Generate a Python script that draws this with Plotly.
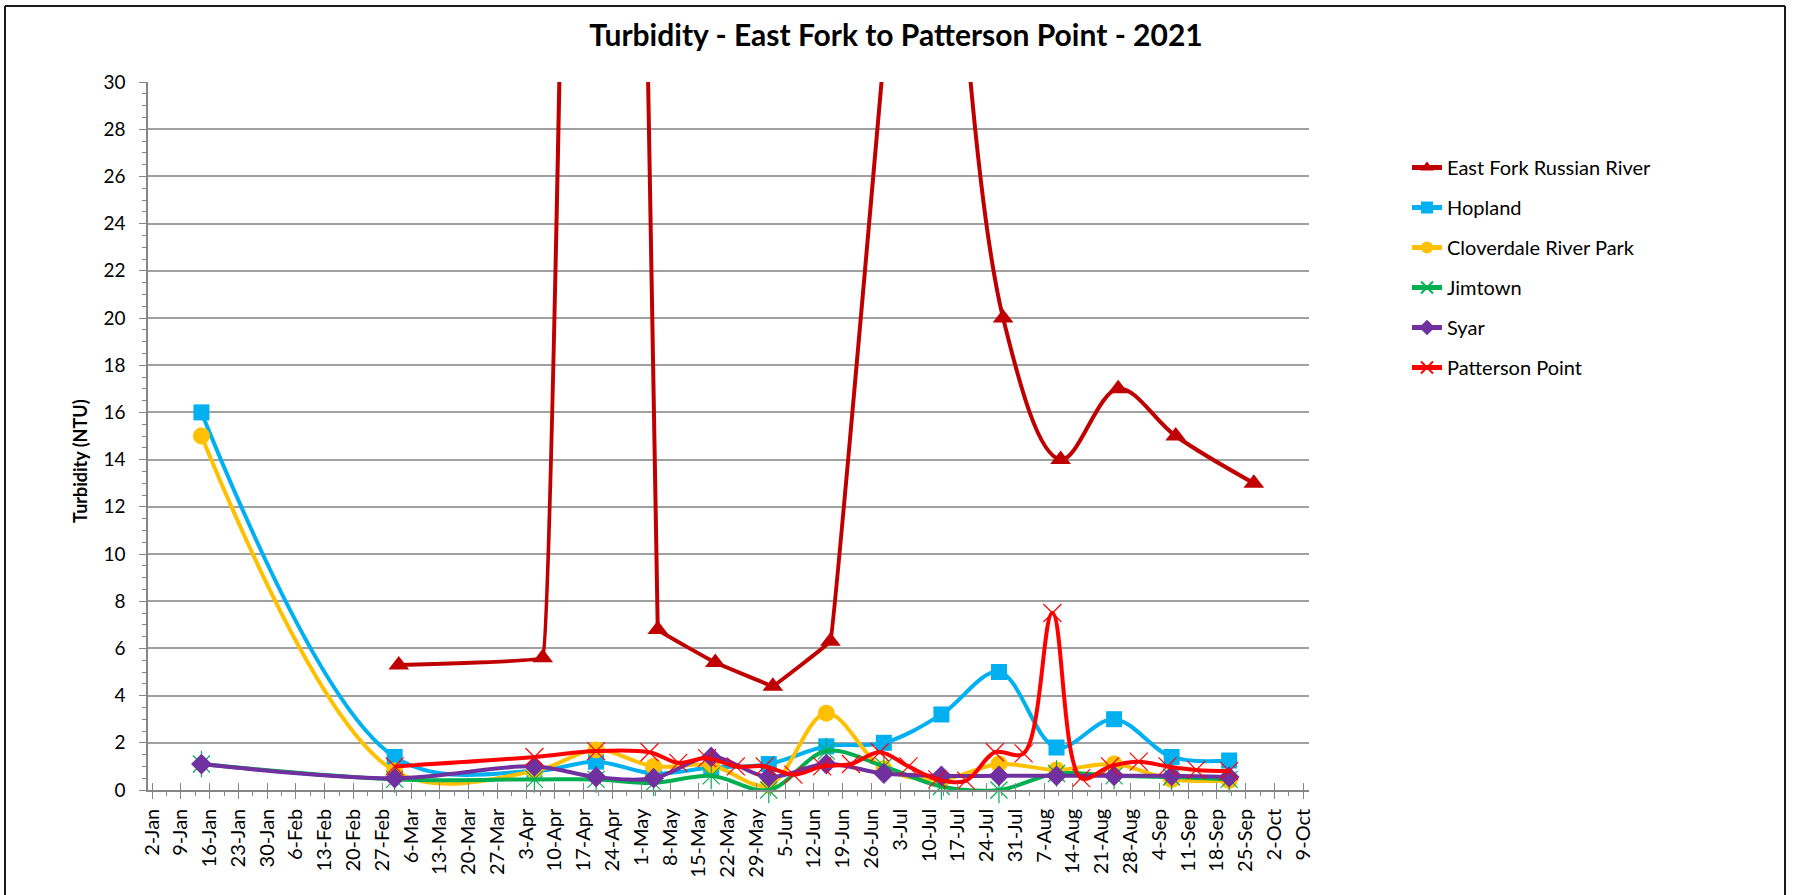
import pandas as pd
import plotly.graph_objects as go

# ---------------- data ----------------
site_dates = ["2021-01-14", "2021-03-02", "2021-04-05", "2021-04-20", "2021-05-04",
              "2021-05-18", "2021-06-01", "2021-06-15", "2021-06-29", "2021-07-13",
              "2021-07-27", "2021-08-10", "2021-08-24", "2021-09-07", "2021-09-21"]
hopland = [16.0, 1.4, 0.8, 1.2, 0.7, 0.95, 1.1, 1.85, 2.0, 3.2, 5.0, 1.8, 3.0, 1.4, 1.25]
cloverdale = [15.0, 0.8, 0.8, 1.7, 1.0, 1.05, 0.2, 3.25, 0.9, 0.45, 1.1, 0.85, 1.1, 0.45, 0.4]
jimtown = [1.1, 0.45, 0.45, 0.45, 0.3, 0.6, 0.0, 1.65, 1.0, 0.15, 0.0, 0.7, 0.6, 0.55, 0.45]
syar = [1.1, 0.5, 1.0, 0.55, 0.5, 1.4, 0.55, 1.1, 0.7, 0.6, 0.6, 0.6, 0.6, 0.6, 0.55]

east_fork_dates = ["2021-03-03", "2021-04-07", "2021-04-22", "2021-05-05", "2021-05-19",
                   "2021-06-02", "2021-06-16", "2021-06-30", "2021-07-14", "2021-07-28",
                   "2021-08-11", "2021-08-25", "2021-09-08", "2021-09-27"]
east_fork = [5.3, 5.6, 150.0, 6.8, 5.4, 4.4, 6.3, 33.0, 45.0, 20.0, 14.0, 17.0, 15.0, 13.0]

patterson_dates = ["2021-03-02", "2021-04-05", "2021-04-20", "2021-05-03", "2021-05-10",
                   "2021-05-17", "2021-05-24", "2021-05-31", "2021-06-07", "2021-06-14",
                   "2021-06-21", "2021-06-28", "2021-07-05", "2021-07-12", "2021-07-19",
                   "2021-07-26", "2021-08-02", "2021-08-09", "2021-08-16", "2021-08-23",
                   "2021-08-30", "2021-09-06", "2021-09-13", "2021-09-21"]
patterson = [1.0, 1.4, 1.65, 1.6, 1.15, 1.35, 1.0, 1.0, 0.65, 1.0, 1.1, 1.6, 1.0, 0.45,
             0.4, 1.6, 1.55, 7.5, 0.5, 1.0, 1.2, 1.0, 0.85, 0.8]

week_labels = ["2-Jan", "9-Jan", "16-Jan", "23-Jan", "30-Jan", "6-Feb", "13-Feb", "20-Feb",
               "27-Feb", "6-Mar", "13-Mar", "20-Mar", "27-Mar", "3-Apr", "10-Apr", "17-Apr",
               "24-Apr", "1-May", "8-May", "15-May", "22-May", "29-May", "5-Jun", "12-Jun",
               "19-Jun", "26-Jun", "3-Jul", "10-Jul", "17-Jul", "24-Jul", "31-Jul", "7-Aug",
               "14-Aug", "21-Aug", "28-Aug", "4-Sep", "11-Sep", "18-Sep", "25-Sep", "2-Oct",
               "9-Oct"]
week_vals = [pd.to_datetime(lbl + "-2021", format="%d-%b-%Y") for lbl in week_labels]

Y_MAX = 30

# ---------------- figure ----------------
FONT = "Lato"
W, H = 1798, 895
M_L, M_R, M_T, M_B = 148, 489, 82, 105
PW, PH = W - M_L - M_R, H - M_T - M_B
LINE_W = 4


def px_x(p):
    return (p - M_L) / PW


def px_y(p):
    return (H - M_B - p) / PH


fig = go.Figure()

# East Fork: readings above the axis maximum keep the line but get no visible marker.
# The storm section is drawn with a tighter curve, the late-summer section with full smoothing.
ef_symbols = ["triangle-up" if v <= Y_MAX else "line-ns" for v in east_fork]
last_high = max(i for i, v in enumerate(east_fork) if v > Y_MAX)
ef_parts = [(slice(0, last_high + 1), 0.08, True), (slice(last_high, None), 1.0, False)]
for sl, smooth, in_legend in ef_parts:
    fig.add_trace(go.Scatter(
        x=east_fork_dates[sl], y=east_fork[sl], name="East Fork Russian River",
        mode="lines+markers", legendgroup="a", showlegend=in_legend,
        line=dict(color="#C00000", width=LINE_W, shape="spline", smoothing=smooth),
        marker=dict(symbol=ef_symbols[sl], size=18, color="#C00000",
                    line=dict(width=0, color="#C00000")),
        cliponaxis=False))

fig.add_trace(go.Scatter(
    x=site_dates, y=hopland, name="Hopland", mode="lines+markers", legendgroup="b",
    line=dict(color="#00B0F0", width=LINE_W, shape="spline", smoothing=1.0),
    marker=dict(symbol="square", size=16, color="#00B0F0"), cliponaxis=False))

fig.add_trace(go.Scatter(
    x=site_dates, y=cloverdale, name="Cloverdale River Park", mode="lines+markers",
    legendgroup="c",
    line=dict(color="#FFC000", width=LINE_W, shape="spline", smoothing=1.0),
    marker=dict(symbol="circle", size=17, color="#FFC000"), cliponaxis=False))

fig.add_trace(go.Scatter(
    x=site_dates, y=jimtown, name="Jimtown", mode="lines+markers", legendgroup="d",
    line=dict(color="#00B050", width=LINE_W, shape="spline", smoothing=1.0),
    marker=dict(symbol="x-thin", size=17, line=dict(width=1.2, color="#00B050")),
    cliponaxis=False))
# vertical stroke completing the star marker
fig.add_trace(go.Scatter(
    x=site_dates, y=jimtown, mode="markers", legendgroup="d", showlegend=False,
    marker=dict(symbol="line-ns", size=19, line=dict(width=1.2, color="#00B050")),
    cliponaxis=False, hoverinfo="skip"))

fig.add_trace(go.Scatter(
    x=site_dates, y=syar, name="Syar", mode="lines+markers", legendgroup="e",
    line=dict(color="#7030A0", width=LINE_W, shape="spline", smoothing=1.0),
    marker=dict(symbol="diamond", size=16, color="#7030A0"), cliponaxis=False))

fig.add_trace(go.Scatter(
    x=patterson_dates, y=patterson, name="Patterson Point", mode="lines+markers",
    legendgroup="f",
    line=dict(color="#FF0000", width=LINE_W, shape="spline", smoothing=1.0),
    marker=dict(symbol="x-thin", size=18, line=dict(width=1.2, color="#FF0000")),
    cliponaxis=False))

# overlay axis that carries the inner half of the crossing major ticks
fig.add_trace(go.Scatter(x=[week_vals[0]], y=[None], xaxis="x2", showlegend=False,
                         hoverinfo="skip", mode="markers"))

x_range = ["2021-01-01", "2021-10-10 10:00"]
axis_grey = "#868686"

fig.update_layout(
    width=W, height=H,
    margin=dict(l=M_L, r=M_R, t=M_T, b=M_B, autoexpand=False),
    paper_bgcolor="white", plot_bgcolor="white",
    font=dict(family=FONT, color="#000000"),
    title=dict(text="<b>Turbidity - East Fork to Patterson Point - 2021</b>",
               font=dict(family=FONT, size=30, color="#000000"),
               x=px_x(896), xref="paper", xanchor="center",
               y=1 - 35 / H, yref="container", yanchor="middle"),
    xaxis=dict(type="date", range=x_range, tickvals=week_vals, ticktext=week_labels,
               tickangle=-90, tickfont=dict(family=FONT, size=20, color="#000000"),
               ticks="outside", ticklen=7, tickcolor=axis_grey, tickwidth=1.3,
               minor=dict(dtick=3.5 * 86400000, tick0="2021-01-02", ticks="outside",
                          ticklen=4, tickcolor=axis_grey, tickwidth=1.3, showgrid=False),
               showline=True, linecolor=axis_grey, linewidth=1.5, showgrid=False,
               zeroline=False, ticklabelstandoff=2),
    xaxis2=dict(type="date", overlaying="x", matches="x", anchor="y", side="bottom",
                tickvals=week_vals, showticklabels=False, ticks="inside", ticklen=7,
                tickcolor=axis_grey, tickwidth=1.3, showline=False, showgrid=False,
                zeroline=False),
    yaxis=dict(range=[0, Y_MAX], dtick=2, tick0=0,
               tickfont=dict(family=FONT, size=19, color="#000000"),
               ticks="outside", ticklen=7, tickcolor=axis_grey, tickwidth=1.3,
               minor=dict(dtick=0.5, ticks="outside", ticklen=4, tickcolor=axis_grey,
                          tickwidth=1.0, showgrid=False),
               showline=True, linecolor=axis_grey, linewidth=1.5,
               showgrid=True, gridcolor="#A0A0A0", gridwidth=1.5, zeroline=False,
               ticklabelstandoff=10),
    legend=dict(x=px_x(1407), xanchor="left", y=px_y(148), yanchor="top",
                font=dict(family=FONT, size=20, color="#000000"),
                tracegroupgap=11, traceorder="grouped", itemsizing="constant",
                bgcolor="rgba(0,0,0,0)", borderwidth=0),
    showlegend=True,
)

fig.add_annotation(text="<b>Turbidity (NTU)</b>", xref="paper", yref="paper",
                   x=px_x(80), y=px_y(461), textangle=-90, showarrow=False,
                   font=dict(family=FONT, size=18, color="#000000"),
                   xanchor="center", yanchor="middle")

# chart border
border = dict(type="line", xref="paper", yref="paper",
              line=dict(color="#1A1A1A", width=2))
fig.add_shape(x0=px_x(5), x1=px_x(1785), y0=px_y(6), y1=px_y(6), **border)
fig.add_shape(x0=px_x(5), x1=px_x(5), y0=px_y(6), y1=px_y(905), **border)
fig.add_shape(x0=px_x(1785), x1=px_x(1785), y0=px_y(6), y1=px_y(905), **border)

fig.write_html("out.html")
